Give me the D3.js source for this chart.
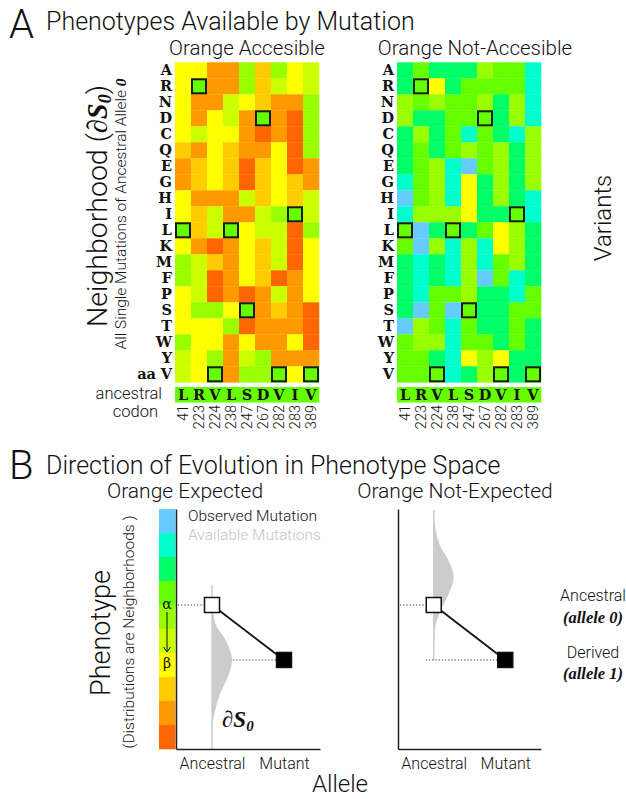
<!DOCTYPE html>
<html><head><meta charset="utf-8">
<script src="https://cdn.jsdelivr.net/npm/d3@7"></script>
<style>
body{margin:0;background:#fff;}
svg text{font-family:Roboto,"Liberation Sans",sans-serif;font-weight:300;fill:#111;}
.mono{font-family:"DejaVu Serif",serif !important;font-weight:bold !important;}
.ser{font-family:"Liberation Serif","DejaVu Serif",serif !important;font-weight:bold !important;font-style:italic;}
</style>
</head><body>
<script>
// ---------- DATA ----------
const rows = ["A","R","N","D","C","Q","E","G","H","I","L","K","M","F","P","S","T","W","Y","V"];
const sites = ["41","223","224","238","247","267","282","283","389"];
const ancestralAA = ["L","R","V","L","S","D","V","I","V"];
// phenotype classes 0 (blue) .. 9 (dark orange)
const palette = ["#66ccff","#00ffcc","#00ff66","#66ff00","#99ff00","#ccff00","#ffff00","#ffcc00","#ff9900","#ff6600"];
const orangeAccessible = [
 [6,6,8,8,4,7,4,6,5],
 [6,3,8,8,4,7,5,6,5],
 [6,8,8,5,6,7,8,8,4],
 [6,8,6,5,8,3,8,9,4],
 [6,5,6,6,8,9,8,9,4],
 [7,8,6,7,8,8,6,9,4],
 [8,7,6,7,9,7,6,9,8],
 [8,7,6,7,9,7,6,7,8],
 [6,8,8,8,5,7,6,7,5],
 [6,7,5,8,8,5,4,3,5],
 [3,7,5,3,6,5,5,9,4],
 [6,8,9,8,6,7,5,9,6],
 [4,5,7,8,6,7,5,9,6],
 [4,5,9,8,6,7,9,8,6],
 [6,5,9,8,9,8,5,8,6],
 [6,4,4,6,3,8,7,8,9],
 [6,6,6,4,9,8,8,8,9],
 [4,6,6,8,6,8,8,6,9],
 [5,6,4,8,5,4,8,8,8],
 [5,6,3,8,4,4,3,6,3]
];
const orangeNotAccessible = [
 [2,3,2,2,2,4,3,3,1],
 [2,3,6,2,3,3,3,3,1],
 [4,3,4,3,3,4,2,4,1],
 [4,2,2,3,3,3,2,4,1],
 [2,4,2,3,1,3,2,1,4],
 [2,3,2,3,4,3,4,2,4],
 [2,3,4,1,0,3,4,2,4],
 [1,3,4,1,6,2,4,2,4],
 [0,3,4,1,6,2,4,2,1],
 [1,4,4,4,6,2,2,3,1],
 [3,0,2,3,2,3,6,4,2],
 [3,0,4,1,4,1,6,4,2],
 [2,1,2,1,4,1,3,4,2],
 [2,1,2,1,4,0,3,1,2],
 [2,1,3,3,4,2,2,1,3],
 [2,0,3,0,3,2,2,3,3],
 [0,4,3,1,3,2,2,3,2],
 [3,4,4,1,3,3,2,3,2],
 [3,3,2,1,6,4,6,2,2],
 [3,3,3,1,2,4,3,2,3]
];
const alleles = ["Ancestral","Mutant"];
const phenotypeLevels = d3.range(10);
// schematic phenotype values (0 = top/blue .. 10 = bottom/dark orange)
const phenAncestral = 4.0;
const phenDerived = 6.29;
const densExpectedPos = [3.17, 4.0, 4.75, 5.46, 6.29, 7.0, 7.67, 8.38, 8.92, 10];
const densExpectedVal = [0, 0.04, 0.16, 0.68, 1.0, 0.79, 0.42, 0.16, 0.04, 0];
const densNotExpPos = [0.04, 0.875, 1.5, 2.125, 2.83, 3.58, 4.2, 4.83, 5.46, 6.29];
const densNotExpVal = [0, 0.1, 0.3, 0.72, 1.0, 0.72, 0.36, 0.1, 0.03, 0];

// ---------- DRAW ----------
const svg = d3.select("body").append("svg").attr("width",626).attr("height",799);
const color = d3.scaleOrdinal().domain(phenotypeLevels).range(palette);

// Panel A titles
svg.append("text").attr("x",9).attr("y",38).attr("font-size",40).text("A");
svg.append("text").attr("x",46).attr("y",30).attr("font-size",25).text("Phenotypes Available by Mutation");

const yRow = d3.scaleBand().domain(rows).range([62.3,382.3]);

function heat(x0, matrix, title, titleX, leftLabels){
  const g = svg.append("g");
  const x = d3.scaleBand().domain(sites).range([x0, x0+144]);
  g.append("text").attr("x",titleX).attr("y",55).attr("text-anchor","middle").attr("font-size",20.5).text(title);
  const cells = [];
  matrix.forEach((r,i)=>r.forEach((v,j)=>cells.push({row:rows[i],site:sites[j],v,anc:rows[i]===ancestralAA[j]})));
  g.selectAll("rect.c").data(cells).join("rect").attr("class","c")
    .attr("x",d=>x(d.site)).attr("y",d=>yRow(d.row))
    .attr("width",x.bandwidth()+0.3).attr("height",yRow.bandwidth()+0.3)
    .attr("fill",d=>color(d.v));
  g.selectAll("rect.b").data(cells.filter(d=>d.anc)).join("rect").attr("class","b")
    .attr("x",d=>x(d.site)+1).attr("y",d=>yRow(d.row)+1)
    .attr("width",x.bandwidth()-2).attr("height",yRow.bandwidth()-2)
    .attr("fill","none").attr("stroke","#1a1a1a").attr("stroke-width",2);
  g.selectAll("text.r").data(rows).join("text").attr("class","r mono")
    .attr("x",x0-3).attr("y",d=>yRow(d)+yRow.bandwidth()/2+5)
    .attr("text-anchor","end").attr("font-size",14.5).text(d=>d);
  // ancestral row
  g.selectAll("rect.a").data(sites).join("rect").attr("class","a")
    .attr("x",d=>x(d)).attr("y",387).attr("width",x.bandwidth()+0.3).attr("height",15.5)
    .attr("fill",color(3));
  g.selectAll("text.a").data(sites).join("text").attr("class","a mono")
    .attr("x",d=>x(d)+x.bandwidth()/2).attr("y",399.5).attr("text-anchor","middle")
    .attr("font-size",14.5).text((d,i)=>ancestralAA[i]);
  g.selectAll("text.s").data(sites).join("text").attr("class","s")
    .attr("transform",d=>`translate(${x(d)+x.bandwidth()/2+5},405) rotate(-90)`)
    .attr("text-anchor","end").attr("font-size",14.5).text(d=>d);
  if(leftLabels){
    g.append("text").attr("class","mono").attr("x",156).attr("y",yRow("V")+13).attr("text-anchor","end").attr("font-size",14.5).text("aa");
    g.append("text").attr("x",162).attr("y",399).attr("text-anchor","end").attr("font-size",16.5).text("ancestral");
    g.append("text").attr("x",158).attr("y",417).attr("text-anchor","end").attr("font-size",16.5).text("codon");
  }
}
heat(175, orangeAccessible, "Orange Accesible", 247, true);
heat(397, orangeNotAccessible, "Orange Not-Accesible", 475, false);

// Y labels panel A
const nl = svg.append("text").attr("transform","translate(107,206) rotate(-90)").attr("text-anchor","middle").attr("font-size",28.5);
nl.append("tspan").text("Neighborhood (");
nl.append("tspan").attr("class","ser").text("∂S");
nl.append("tspan").attr("class","ser").attr("font-size",18).attr("dy",4).text("0");
nl.append("tspan").attr("dy",-4).text(")");
const sl = svg.append("text").attr("transform","translate(126,214) rotate(-90)").attr("text-anchor","middle").attr("font-size",15.5);
sl.append("tspan").text("All Single Mutations of Ancestral Allele ");
sl.append("tspan").attr("class","ser").text("0");
svg.append("text").attr("transform","translate(611,218) rotate(-90)").attr("text-anchor","middle").attr("font-size",24).text("Variants");

// Panel B
svg.append("text").attr("x",9).attr("y",479).attr("font-size",40).text("B");
svg.append("text").attr("x",46).attr("y",474).attr("font-size",25).text("Direction of Evolution in Phenotype Space");

const yP = d3.scaleLinear().domain([0,10]).range([509,749]);
const wS = d3.scaleLinear().domain([0,1]).range([0,20]);

function panel(x0, x1, title, titleX, dPos, dVal, mutDotOffset, legend){
  const g = svg.append("g");
  const xP = d3.scalePoint().domain(alleles).range([x0,x1]).padding(0.5);
  g.append("text").attr("x",titleX).attr("y",498).attr("text-anchor","middle").attr("font-size",21).text(title);
  if(legend){
    g.selectAll("rect.l").data(phenotypeLevels).join("rect").attr("class","l")
      .attr("x",159).attr("y",d=>yP(d)).attr("width",16.5).attr("height",yP(1)-yP(0)+0.3)
      .attr("fill",d=>color(d));
    g.append("text").attr("x",188).attr("y",521).attr("font-size",15.5).text("Observed Mutation");
    g.append("text").attr("x",188).attr("y",540).attr("font-size",15.5).style("fill","#c4c4c4").text("Available Mutations");
    g.append("text").attr("x",167).attr("y",yP(phenAncestral)+4).attr("text-anchor","middle").attr("font-size",14).style("font-family","DejaVu Serif").text("α");
    g.append("line").attr("x1",167).attr("x2",167).attr("y1",yP(phenAncestral)+7).attr("y2",yP(phenDerived)-9).attr("stroke","#111").attr("stroke-width",1);
    g.append("path").attr("d",`M163.5,${yP(phenDerived)-13} L167,${yP(phenDerived)-8} L170.5,${yP(phenDerived)-13}`).attr("fill","none").attr("stroke","#111").attr("stroke-width",1);
    g.append("text").attr("x",167).attr("y",yP(phenDerived)+8).attr("text-anchor","middle").attr("font-size",14).style("font-family","DejaVu Serif").text("β");
  }
  const base = xP("Ancestral");
  const pts = dPos.map((p,i)=>({p,v:dVal[i]}));
  g.append("line").attr("x1",base).attr("x2",base).attr("y1",yP(dPos[0])).attr("y2",yP(dPos[dPos.length-1])).attr("stroke","#cfcfcf").attr("stroke-width",1.5);
  g.append("path").datum(pts).attr("fill","#cccccc")
    .attr("d",d3.area().curve(d3.curveMonotoneY).y(d=>yP(d.p)).x0(base).x1(d=>base+wS(d.v)));
  // axes
  const ax = g.append("g").attr("transform",`translate(0,${yP(10)})`).call(d3.axisBottom(xP).tickSize(0).tickPadding(9));
  ax.select(".domain").attr("stroke","#222").attr("stroke-width",1.5);
  ax.selectAll("text").attr("font-size",16).style("font-family","Roboto, 'Liberation Sans', sans-serif").style("font-weight",300).attr("fill","#111");
  const ay = g.append("g").attr("transform",`translate(${x0},0)`).call(d3.axisLeft(yP).tickValues([]).tickSizeOuter(0));
  ay.select(".domain").attr("stroke","#222").attr("stroke-width",1.5);
  // dotted guides
  const xa = xP("Ancestral"), xm = xP("Mutant"), ya = yP(phenAncestral), ym = yP(phenDerived);
  g.append("line").attr("x1",x0+2).attr("x2",xa-8).attr("y1",ya).attr("y2",ya).attr("stroke","#333").attr("stroke-dasharray","1.2,2").attr("stroke-width",1);
  g.append("line").attr("x1",xa+mutDotOffset).attr("x2",xm-8).attr("y1",ym).attr("y2",ym).attr("stroke","#333").attr("stroke-dasharray","1.2,2").attr("stroke-width",1);
  g.append("line").attr("x1",xa).attr("y1",ya).attr("x2",xm).attr("y2",ym).attr("stroke","#111").attr("stroke-width",1.8);
  g.append("rect").attr("x",xa-7.5).attr("y",ya-7.5).attr("width",15).attr("height",15).attr("fill","#fff").attr("stroke","#111").attr("stroke-width",1.5);
  g.append("rect").attr("x",xm-7.5).attr("y",ym-7.5).attr("width",15).attr("height",15).attr("fill","#000").attr("stroke","#111").attr("stroke-width",1.5);
  return xP;
}
panel(176, 320, "Orange Expected", 185, densExpectedPos, densExpectedVal, 21, true);
panel(398, 541, "Orange Not-Expected", 455, densNotExpPos, densNotExpVal, -8, false);

const ds = svg.append("text").attr("class","ser").attr("x",222).attr("y",727).attr("font-size",23);
ds.append("tspan").text("∂S");
ds.append("tspan").attr("font-size",15).attr("dy",4).text("0");

svg.append("text").attr("x",593).attr("y",601).attr("text-anchor","middle").attr("font-size",16).text("Ancestral");
svg.append("text").attr("class","ser").attr("x",593).attr("y",623).attr("text-anchor","middle").attr("font-size",16.5).text("(allele 0)");
svg.append("text").attr("x",593).attr("y",658).attr("text-anchor","middle").attr("font-size",16).text("Derived");
svg.append("text").attr("class","ser").attr("x",593).attr("y",679).attr("text-anchor","middle").attr("font-size",16.5).text("(allele 1)");

svg.append("text").attr("x",340).attr("y",792).attr("text-anchor","middle").attr("font-size",24).text("Allele");
svg.append("text").attr("transform","translate(110,633) rotate(-90)").attr("text-anchor","middle").attr("font-size",27).text("Phenotype");
svg.append("text").attr("transform","translate(134,632) rotate(-90)").attr("text-anchor","middle").attr("font-size",15.5).text("(Distributions are Neighborhoods )");
</script>
</body></html>
